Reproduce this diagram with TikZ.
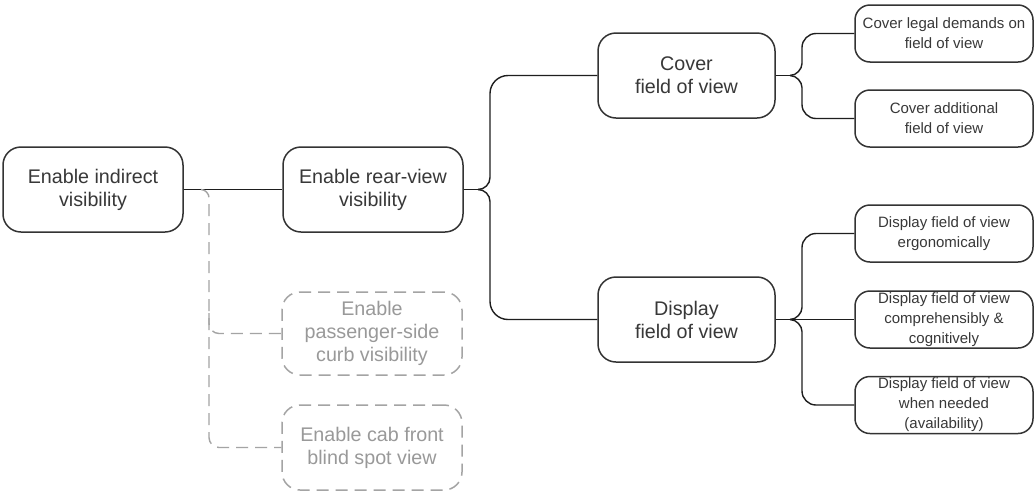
\documentclass[tikz,border=0pt]{standalone}
\usepackage{fontspec}
\setmainfont{Liberation Sans}
\definecolor{boxline}{HTML}{333333}
\definecolor{linkline}{HTML}{1E1E1E}
\definecolor{textgray}{HTML}{383838}
\definecolor{optgray}{HTML}{A4A4A4}
\definecolor{opttext}{HTML}{999999}
\begin{document}
\begin{tikzpicture}[x=1pt,y=-1pt,
  bigbox/.style={draw=boxline, line width=1.5pt, rounded corners=18pt,
    minimum width=180pt, minimum height=85pt, align=center, inner sep=0pt,
    font=\fontsize{19.7}{23}\selectfont, text=textgray},
  optbox/.style={bigbox, draw=optgray, text=opttext, dash pattern=on 12pt off 7pt},
  smallbox/.style={draw=boxline, line width=1.5pt, rounded corners=15pt,
    minimum width=178pt, minimum height=57pt, align=center, inner sep=0pt,
    font=\fontsize{15}{20}\selectfont, text=textgray},
  link/.style={draw=linkline, line width=1.4pt},
  optlink/.style={draw=optgray, line width=1.4pt, dash pattern=on 12pt off 7pt}]
\fill[white] (0,0) rectangle (1036,491);
\useasboundingbox (0,0) rectangle (1036,491);

% goal tree
\node[bigbox] (indirect) at (93,189.5) {Enable indirect\\visibility};
\node[bigbox] (rear) at (373,189.5) {Enable rear-view\\visibility};
\node[optbox, minimum height=83pt] (curb) at (372,333.5) {Enable\\passenger-side\\curb visibility};
\node[optbox] (cab) at (372,447.5) {Enable cab front\\blind spot view};
\node[bigbox, minimum width=177pt] (cover) at (686.5,75.5) {Cover\\field of view};
\node[bigbox, minimum width=177pt] (display) at (686.5,319.5) {Display\\field of view};

\node[smallbox] (legal) at (944,33.5) {Cover legal demands on\\field of view};
\node[smallbox] (additional) at (944,118.5) {Cover additional\\field of view};
\node[smallbox] (ergo) at (944,233.5) {Display field of view\\ergonomically};
\node[smallbox] (compr) at (944,319.5) {Display field of view\\comprehensibly \&\\cognitively};
\node[smallbox] (needed) at (944,405) {Display field of view\\when needed\\(availability)};

% junction points where the branches split
\coordinate (ji) at (201,189.5);
\coordinate (jr) at (478,189.5);
\coordinate (jc) at (790,75.5);
\coordinate (jd) at (790,319.5);

% optional branches (dashed)
\draw[link] (indirect.east) -- (rear.west);
\draw[optlink] (ji) .. controls (205.4,189.5) and (209,193.9) .. (209,197.5)
  -- (209,437.5) .. controls (209,443) and (213.5,447.5) .. (219,447.5) -- (cab.west);
\draw[optlink] (209,313) -- (209,323.5) .. controls (209,329) and (213.5,333.5) .. (219,333.5) -- (curb.west);

% rear-view brace
\draw[link] (rear.east) -- (jr);
\draw[link] (jr) .. controls (484.6,189.5) and (490,184.1) .. (490,177.5)
  -- (490,93.5) .. controls (490,83.6) and (498.1,75.5) .. (508,75.5) -- (cover.west);
\draw[link] (jr) .. controls (484.6,189.5) and (490,194.9) .. (490,201.5)
  -- (490,301.5) .. controls (490,311.4) and (498.1,319.5) .. (508,319.5) -- (display.west);

% cover brace
\draw[link] (cover.east) -- (jc);
\draw[link] (jc) .. controls (796.6,75.5) and (802,68.9) .. (802,63.5)
  -- (802,47.5) .. controls (802,39.8) and (808.3,33.5) .. (816,33.5) -- (legal.west);
\draw[link] (jc) .. controls (796.6,75.5) and (802,82.1) .. (802,87.5)
  -- (802,104.5) .. controls (802,112.2) and (808.3,118.5) .. (816,118.5) -- (additional.west);

% display brace
\draw[link] (display.east) -- (compr.west);
\draw[link] (jd) .. controls (796.6,319.5) and (802,312.9) .. (802,307.5)
  -- (802,247.5) .. controls (802,239.8) and (808.3,233.5) .. (816,233.5) -- (ergo.west);
\draw[link] (jd) .. controls (796.6,319.5) and (802,326.1) .. (802,331.5)
  -- (802,391) .. controls (802,398.7) and (808.3,405) .. (816,405) -- (needed.west);
\end{tikzpicture}
\end{document}
